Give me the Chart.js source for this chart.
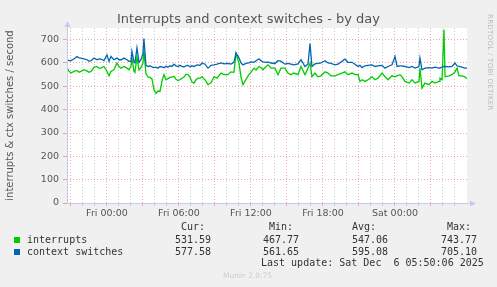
<!DOCTYPE html>
<html>
<head>
<meta charset="utf-8">
<script src="https://cdn.jsdelivr.net/npm/chart.js@4/dist/chart.umd.min.js"></script>
<style>
html,body{margin:0;padding:0;background:#F0F0F0;}
#wrap{position:relative;width:497px;height:287px;overflow:hidden;background:#F0F0F0;}
#c{position:absolute;left:0;top:0;}
.t{position:absolute;white-space:pre;font-family:'DejaVu Sans Mono',monospace;font-size:10px;line-height:12px;color:#333;}
.sq{position:absolute;width:6px;height:6px;}
#title{position:absolute;left:0;width:497px;top:11px;text-align:center;font-family:'DejaVu Sans',sans-serif;font-size:13px;line-height:16px;color:#555;}
#rrd{position:absolute;left:486px;top:14px;writing-mode:vertical-rl;font-family:'DejaVu Sans',sans-serif;font-size:7px;color:#bbb;letter-spacing:0.3px;}
#munin{position:absolute;left:223px;top:271px;font-family:'DejaVu Sans',sans-serif;font-size:7.5px;line-height:10px;color:#ccc;}
</style>
</head>
<body>
<div id="wrap">
<canvas id="c" width="497" height="287"></canvas>
<div id="title">Interrupts and context switches - by day</div>
<div id="rrd">RRDTOOL / TOBI OETIKER</div>
<div class="t" style="left:181px;top:221px">Cur:</div>
<div class="t" style="left:269px;top:221px">Min:</div>
<div class="t" style="left:352px;top:221px">Avg:</div>
<div class="t" style="left:447px;top:221px">Max:</div>
<div class="sq" style="left:14px;top:237px;background:#00CC00"></div>
<div class="t" style="left:27px;top:234px">interrupts</div>
<div class="t" style="left:175px;top:234px">531.59</div>
<div class="t" style="left:263px;top:234px">467.77</div>
<div class="t" style="left:352px;top:234px">547.06</div>
<div class="t" style="left:441px;top:234px">743.77</div>
<div class="sq" style="left:14px;top:249px;background:#0066B3"></div>
<div class="t" style="left:27px;top:246px">context switches</div>
<div class="t" style="left:175px;top:246px">577.58</div>
<div class="t" style="left:263px;top:246px">561.65</div>
<div class="t" style="left:352px;top:246px">595.08</div>
<div class="t" style="left:441px;top:246px">705.10</div>
<div class="t" style="left:261px;top:257px">Last update: Sat Dec  6 05:50:06 2025</div>
<div id="munin">Munin 2.0.75</div>
</div>
<script>
// Sample times, hours relative to Fri 00:00
const hours = [
-3.33,-3.17,-3.00,-2.75,-2.50,-2.33,-2.17,-1.92,-1.67,-1.50,
-1.33,-1.08,-0.83,-0.67,-0.50,-0.25,0.00,0.17,0.33,0.58,
0.83,1.00,1.17,1.42,1.67,1.83,2.00,2.08,2.25,2.33,
2.50,2.67,2.83,3.00,3.08,3.25,3.42,3.58,3.75,3.92,
4.08,4.25,4.42,4.58,4.75,4.92,5.08,5.25,5.42,5.58,
5.75,5.92,6.08,6.25,6.42,6.58,6.75,6.92,7.08,7.25,
7.42,7.58,7.75,
7.92,8.17,8.42,8.67,8.92,9.17,9.50,9.75,10.08,10.33,
10.58,10.75,11.00,11.17,11.33,11.58,11.83,12.00,12.25,12.42,
12.67,12.83,13.00,13.25,13.42,
13.67,14.00,14.25,14.50,14.83,15.08,15.33,15.58,15.92,16.17,
16.50,16.75,16.92,17.08,17.33,17.58,17.83,18.17,18.42,18.67,
19.00,
19.25,19.58,19.83,20.08,20.42,20.67,20.92,21.08,21.25,21.50,
21.75,22.08,22.33,22.58,22.92,23.17,23.42,23.75,24.00,24.17,
24.42,24.58,
24.83,25.17,25.42,25.67,26.00,26.08,26.25,26.50,26.83,27.08,
27.33,27.67,27.75,27.92,28.08,28.17,28.50,28.75,29.00,29.17,
29.33,29.58,29.83,30.00
];
const interrupts = [
581,565,557,564,568,560,564,571,566,560,
564,581,585,578,578,585,564,545,564,571,
600,585,578,585,578,571,585,620,565,560,
625,570,580,600,650,555,540,538,532,485,
470,480,478,521,550,528,533,538,540,543,
530,525,528,535,540,552,550,540,518,514,
528,535,535,
541,528,507,515,541,535,557,550,550,562,
560,640,600,540,507,530,550,560,578,570,
585,580,571,585,592,
578,578,550,578,578,557,550,557,550,585,
550,578,600,541,557,541,545,562,557,545,
545,
550,557,562,550,557,550,550,521,528,521,
528,541,528,535,557,541,528,545,541,545,
550,541,
521,514,528,514,521,578,492,514,507,521,
514,521,535,528,743,541,545,550,562,578,
545,545,541,532
];
const ctxSwitches = [
614,610,610,617,628,622,621,618,614,608,
610,621,614,618,617,610,635,607,628,614,
621,614,614,621,614,607,607,650,605,600,
665,602,614,640,705,590,585,588,583,580,
582,578,585,583,580,586,582,588,585,595,
588,585,590,585,583,588,590,584,588,585,
590,592,590,
600,595,578,590,592,595,600,596,598,595,
603,643,622,600,592,598,600,605,603,610,
618,610,605,603,605,
600,598,610,608,595,598,595,592,596,614,
585,595,683,585,596,598,600,610,600,598,
592,
595,607,617,603,603,595,585,590,580,588,
590,592,585,588,590,578,585,592,628,585,
588,588,
585,580,585,578,585,621,571,578,580,578,
582,578,580,582,585,585,583,585,600,588,
585,582,578,578
];
const xTickHours = [0, 6, 12, 18, 24];
const xTickLabels = ['Fri 00:00', 'Fri 06:00', 'Fri 12:00', 'Fri 18:00', 'Sat 00:00'];
const yTickValues = [0, 100, 200, 300, 400, 500, 600, 700];
const xMin = -3.33, xMax = 30, yMin = 0, yMax = 750;

const gridHours = [];
for (let h = -3; h <= 29; h++) gridHours.push(h);
const gridY = [];
for (let v = 0; v <= 750; v += 50) gridY.push(v);

const MAJOR = 'rgba(235,140,140,0.75)';
const MINOR = 'rgba(190,190,190,0.8)';
const AXIS = '#C8C8F0';

const bgPlugin = {
  id: 'bg',
  beforeDraw(chart) {
    const a = chart.chartArea, c = chart.ctx;
    c.save(); c.fillStyle = '#FFFFFF';
    c.fillRect(a.left, a.top, a.right - a.left, a.bottom - a.top);
    c.restore();
  },
  afterDraw(chart) {
    const a = chart.chartArea, c = chart.ctx;
    c.save();
    c.strokeStyle = AXIS; c.fillStyle = AXIS; c.lineWidth = 1;
    c.beginPath();
    c.moveTo(a.left + 0.5, a.bottom + 0.5); c.lineTo(a.left + 0.5, a.top - 2);
    c.moveTo(a.left, a.bottom + 0.5); c.lineTo(a.right + 4, a.bottom + 0.5);
    c.stroke();
    c.beginPath();
    c.moveTo(a.left - 2.5, a.top - 1); c.lineTo(a.left + 3.5, a.top - 1); c.lineTo(a.left + 0.5, a.top - 7); c.closePath(); c.fill();
    c.beginPath();
    c.moveTo(a.right + 3, a.bottom - 2.5); c.lineTo(a.right + 3, a.bottom + 3.5); c.lineTo(a.right + 9, a.bottom + 0.5); c.closePath(); c.fill();
    c.restore();
  }
};

Chart.defaults.font.family = "'DejaVu Sans', sans-serif";

new Chart(document.getElementById('c'), {
  type: 'line',
  data: {
    datasets: [
      { label: 'context switches', data: hours.map((h, i) => ({ x: h, y: ctxSwitches[i] })),
        borderColor: '#0066B3', borderWidth: 1.3, pointRadius: 0, tension: 0, fill: false, order: 0 },
      { label: 'interrupts', data: hours.map((h, i) => ({ x: h, y: interrupts[i] })),
        borderColor: '#00CC00', borderWidth: 1.3, pointRadius: 0, tension: 0, fill: false, order: 1 }
    ]
  },
  options: {
    responsive: false, animation: false, events: [],
    layout: { padding: { left: 0, top: 28, right: 30, bottom: 0 } },
    plugins: { legend: { display: false }, tooltip: { enabled: false }, title: { display: false } },
    scales: {
      x: {
        type: 'linear', min: xMin, max: xMax,
        afterBuildTicks: s => { s.ticks = gridHours.map(v => ({ value: v })); },
        afterFit: s => { s.height = 84; },
        ticks: {
          autoSkip: false, maxRotation: 0, minRotation: 0, padding: 2, color: '#555',
          font: { size: 9.5 },
          callback: v => { const i = xTickHours.indexOf(v); return i >= 0 ? xTickLabels[i] : ''; }
        },
        grid: { color: c => (c.tick && c.tick.value % 3 === 0) ? MAJOR : MINOR, tickLength: 3, lineWidth: 1 },
        border: { display: false, dash: [1, 2] }
      },
      y: {
        min: yMin, max: yMax,
        afterBuildTicks: s => { s.ticks = gridY.map(v => ({ value: v })); },
        afterFit: s => { s.width = 67; },
        ticks: {
          padding: 4, color: '#555', font: { size: 9.5 },
          callback: v => yTickValues.includes(v) ? String(v) : ''
        },
        grid: { color: c => (c.tick && c.tick.value % 100 === 0) ? MAJOR : MINOR, tickLength: 4, lineWidth: 1 },
        border: { display: false, dash: [1, 2] },
        title: { display: true, text: 'interrupts & ctx switches / second', color: '#555',
          font: { size: 10 }, padding: { top: 4, bottom: 0 } }
      }
    }
  },
  plugins: [bgPlugin]
});
</script>
</body>
</html>
